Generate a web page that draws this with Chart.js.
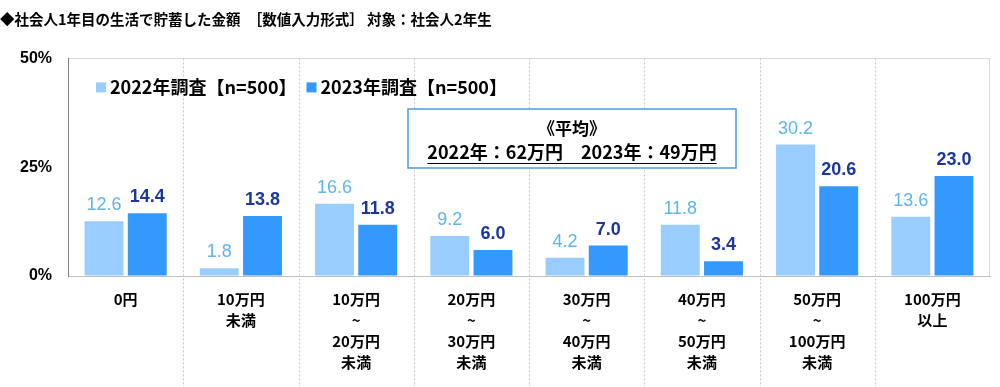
<!DOCTYPE html>
<html>
<head>
<meta charset="utf-8">
<script src="https://cdn.jsdelivr.net/npm/chart.js@4.4.0/dist/chart.umd.min.js"></script>
<style>
  body { margin: 0; background: #fff; }
  #wrap { width: 1000px; height: 387px; }
</style>
</head>
<body>
<div id="wrap"><canvas id="savings" width="1000" height="387"></canvas></div>
<script>
'use strict';

// chart values
var categories = [
  ['0円'],
  ['10万円', '未満'],
  ['10万円', '~', '20万円', '未満'],
  ['20万円', '~', '30万円', '未満'],
  ['30万円', '~', '40万円', '未満'],
  ['40万円', '~', '50万円', '未満'],
  ['50万円', '~', '100万円', '未満'],
  ['100万円', '以上']
];
var values2022 = [12.6, 1.8, 16.6, 9.2, 4.2, 11.8, 30.2, 13.6];
var values2023 = [14.4, 13.8, 11.8, 6.0, 7.0, 3.4, 20.6, 23.0];
var seriesNames = ['2022年調査【n=500】', '2023年調査【n=500】'];
var yTicks = [0, 25, 50];
var averageNote = ['《平均》', '2022年：62万円　2023年：49万円'];

var barColors = ['#99ccff', '#3399ff'];
var labelColors = ['#5fb4ea', '#1a3799'];
var jp = '"Noto Sans CJK JP", sans-serif';
var latin = '"Liberation Sans", Arial, sans-serif';

var extras = {
  id: 'extras',
  beforeDatasetsDraw: function (chart) {
    var ctx = chart.ctx, area = chart.chartArea, x = chart.scales.x;
    var step = x.getPixelForValue(1) - x.getPixelForValue(0);
    ctx.save();
    // dotted category separators, running down through the labels
    ctx.strokeStyle = '#c8c8c8';
    ctx.lineWidth = 1;
    ctx.setLineDash([2, 2]);
    for (var i = 1; i < categories.length; i++) {
      var px = Math.round(x.getPixelForValue(i) - step / 2) + 0.5;
      ctx.beginPath();
      ctx.moveTo(px, area.top);
      ctx.lineTo(px, chart.height);
      ctx.stroke();
    }
    ctx.setLineDash([]);
    // right frame
    ctx.strokeStyle = '#d9d9d9';
    ctx.beginPath();
    ctx.moveTo(area.right - 0.5, area.top);
    ctx.lineTo(area.right - 0.5, area.bottom);
    ctx.stroke();
    ctx.restore();
  },
  afterDatasetsDraw: function (chart) {
    var ctx = chart.ctx;
    ctx.save();
    ctx.textAlign = 'center';
    ctx.textBaseline = 'middle';
    chart.data.datasets.forEach(function (ds, di) {
      var meta = chart.getDatasetMeta(di);
      ctx.fillStyle = labelColors[di];
      ctx.font = (di === 1 ? 'bold ' : '') + '18px ' + latin;
      meta.data.forEach(function (bar, i) {
        ctx.fillText(ds.data[i].toFixed(1), bar.x, bar.y - 16);
      });
    });

    // legend inside the plot
    var area = chart.chartArea;
    var lx = area.left + 28, ly = area.top + 29;
    ctx.textAlign = 'left';
    ctx.font = 'bold 18px ' + jp;
    chart.data.datasets.forEach(function (ds, di) {
      ctx.fillStyle = barColors[di];
      ctx.fillRect(lx, ly - 5, 10, 10);
      ctx.fillStyle = '#000';
      ctx.fillText(ds.label, lx + 14, ly);
      lx += 14 + ctx.measureText(ds.label).width + 10;
    });

    // average box
    var bx = 408, by = 109, bw = 328, bh = 59;
    ctx.fillStyle = '#fff';
    ctx.fillRect(bx, by, bw, bh);
    ctx.strokeStyle = '#4c9be0';
    ctx.lineWidth = 1.5;
    ctx.strokeRect(bx, by, bw, bh);
    ctx.fillStyle = '#000';
    ctx.textAlign = 'center';
    ctx.font = 'bold 17px ' + jp;
    ctx.fillText(averageNote[0], bx + bw / 2, by + 20);
    ctx.font = 'bold 18px ' + jp;
    ctx.fillText(averageNote[1], bx + bw / 2, by + 43);
    var tw = ctx.measureText(averageNote[1]).width;
    ctx.strokeStyle = '#000';
    ctx.lineWidth = 1;
    ctx.beginPath();
    ctx.moveTo(bx + bw / 2 - tw / 2, by + 54.5);
    ctx.lineTo(bx + bw / 2 + tw / 2, by + 54.5);
    ctx.stroke();
    ctx.restore();
  }
};

new Chart(document.getElementById('savings').getContext('2d'), {
  type: 'bar',
  data: {
    labels: categories,
    datasets: [{
      label: seriesNames[0],
      data: values2022,
      backgroundColor: barColors[0],
      barPercentage: 0.9,
      categoryPercentage: 0.75
    }, {
      label: seriesNames[1],
      data: values2023,
      backgroundColor: barColors[1],
      barPercentage: 0.9,
      categoryPercentage: 0.75
    }]
  },
  options: {
    responsive: false,
    animation: false,
    layout: { padding: { top: 0, left: 0, right: 10, bottom: 0 } },
    plugins: {
      legend: { display: false },
      tooltip: { enabled: false },
      title: {
        display: true,
        text: '◆社会人1年目の生活で貯蓄した金額　［数値入力形式］ 対象：社会人2年生',
        align: 'start',
        color: '#000',
        font: { family: jp, size: 14.5, weight: 'bold' },
        padding: { top: 11, bottom: 30 }
      }
    },
    scales: {
      x: {
        grid: { display: false },
        border: { color: '#bfbfbf' },
        ticks: {
          color: '#000',
          padding: 5,
          maxRotation: 0,
          autoSkip: false,
          font: { family: jp, size: 15, weight: 'bold', lineHeight: 1.4 }
        },
        afterFit: function (scale) { scale.height = 111; }
      },
      y: {
        min: 0,
        max: 50,
        afterBuildTicks: function (scale) {
          scale.ticks = yTicks.map(function (v) { return { value: v }; });
        },
        grid: {
          drawTicks: false,
          color: function (c) { return c.tick && c.tick.value === 50 ? '#d9d9d9' : 'rgba(0,0,0,0)'; }
        },
        border: { color: '#808080' },
        ticks: {
          color: '#000',
          padding: 16,
          font: { family: latin, size: 16, weight: 'bold' },
          callback: function (v) { return v + '%'; }
        },
        afterFit: function (scale) { scale.width = 68; }
      }
    }
  },
  plugins: [extras]
});
</script>
</body>
</html>
